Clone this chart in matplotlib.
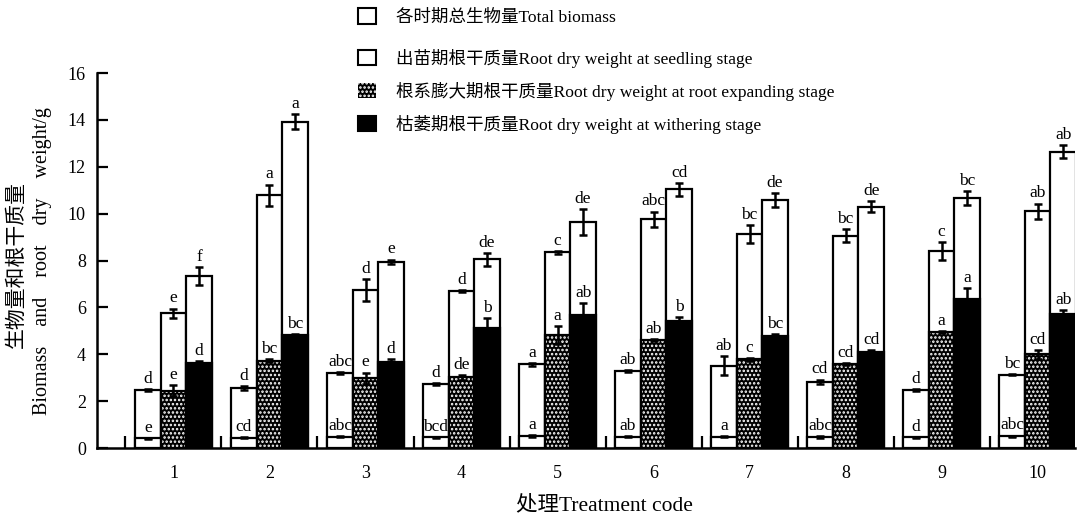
import matplotlib
matplotlib.use('Agg')
import matplotlib.pyplot as plt
from matplotlib.patches import Patch
import numpy as np

plt.rcParams['font.family'] = ['Liberation Serif', 'Noto Sans CJK SC']
plt.rcParams['hatch.linewidth'] = 1.2

groups = ['1', '2', '3', '4', '5', '6', '7', '8', '9', '10']

# seedling stage
total_seedling = [2.47, 2.55, 3.19, 2.72, 3.57, 3.28, 3.51, 2.82, 2.47, 3.13]
total_seedling_err = [0.05, 0.08, 0.05, 0.04, 0.05, 0.04, 0.41, 0.1, 0.05, 0.03]
root_seedling = [0.41, 0.44, 0.48, 0.45, 0.51, 0.48, 0.48, 0.47, 0.45, 0.51]
root_seedling_err = [0.03, 0.02, 0.03, 0.03, 0.03, 0.02, 0.02, 0.03, 0.02, 0.02]
# root expanding stage
total_expand = [5.75, 10.79, 6.74, 6.71, 8.35, 9.77, 9.12, 9.06, 8.40, 10.11]
total_expand_err = [0.2, 0.45, 0.48, 0.04, 0.07, 0.32, 0.38, 0.28, 0.37, 0.32]
root_expand = [2.45, 3.73, 2.97, 3.01, 4.82, 4.61, 3.78, 3.57, 4.96, 4.00]
root_expand_err = [0.23, 0.05, 0.25, 0.12, 0.37, 0.04, 0.05, 0.04, 0.04, 0.19]
# withering stage
total_wither = [7.35, 13.92, 7.94, 8.05, 9.63, 11.03, 10.58, 10.30, 10.65, 12.64]
total_wither_err = [0.38, 0.33, 0.1, 0.28, 0.55, 0.28, 0.3, 0.23, 0.3, 0.28]
root_wither = [3.61, 4.82, 3.68, 5.13, 5.67, 5.42, 4.78, 4.11, 6.36, 5.70]
root_wither_err = [0.1, 0.03, 0.1, 0.4, 0.5, 0.18, 0.1, 0.07, 0.46, 0.2]

# significance letters
total_seedling_lab = ['d', 'd', 'abc', 'd', 'a', 'ab', 'ab', 'cd', 'd', 'bc']
root_seedling_lab = ['e', 'cd', 'abc', 'bcd', 'a', 'ab', 'a', 'abc', 'd', 'abc']
total_expand_lab = ['e', 'a', 'd', 'd', 'c', 'abc', 'bc', 'bc', 'c', 'ab']
root_expand_lab = ['e', 'bc', 'e', 'de', 'a', 'ab', 'c', 'cd', 'a', 'cd']
total_wither_lab = ['f', 'a', 'e', 'de', 'de', 'cd', 'de', 'de', 'bc', 'ab']
root_wither_lab = ['d', 'bc', 'd', 'b', 'ab', 'b', 'bc', 'cd', 'a', 'ab']

fig = plt.figure(figsize=(10.82, 5.23), dpi=100)
ax = fig.add_axes([0.0896, 0.1434, 0.904, 0.717])

x = np.arange(1, len(groups) + 1)
w = 0.266
lw = 1.6


def add_labels(xs, tops, errs, labs):
    for xi, t, e, lab in zip(xs, tops, errs, labs):
        ax.annotate(lab, (xi, t + e), xytext=(0, 1.5), textcoords='offset points',
                    ha='center', va='bottom', fontsize=12.5)


stages = [
    (x - w, total_seedling, total_seedling_err, root_seedling, root_seedling_err, 'seed'),
    (x, total_expand, total_expand_err, root_expand, root_expand_err, 'expand'),
    (x + w, total_wither, total_wither_err, root_wither, root_wither_err, 'wither'),
]

for xs, tot, tot_err, root, root_err, kind in stages:
    ax.bar(xs, tot, w, color='white', edgecolor='black', linewidth=lw, zorder=2)
    if kind == 'seed':
        ax.bar(xs, root, w, color='white', edgecolor='black', linewidth=lw, zorder=3)
    elif kind == 'expand':
        ax.bar(xs, root, w, color='black', edgecolor='white', hatch='....', linewidth=0, zorder=3)
        ax.bar(xs, root, w, fill=False, edgecolor='black', linewidth=lw, zorder=3)
    else:
        ax.bar(xs, root, w, color='black', edgecolor='black', linewidth=lw, zorder=3)
    ax.errorbar(xs, tot, yerr=tot_err, fmt='none', ecolor='black', elinewidth=1.8,
                capsize=3, capthick=1.8, zorder=4)
    ax.errorbar(xs, root, yerr=root_err, fmt='none', ecolor='black', elinewidth=1.8,
                capsize=3, capthick=1.8, zorder=4)

add_labels(x - w, total_seedling, total_seedling_err, total_seedling_lab)
add_labels(x - w, root_seedling, root_seedling_err, root_seedling_lab)
add_labels(x, total_expand, total_expand_err, total_expand_lab)
add_labels(x, root_expand, root_expand_err, root_expand_lab)
add_labels(x + w, total_wither, total_wither_err, total_wither_lab)
add_labels(x + w, root_wither, root_wither_err, root_wither_lab)

ax.set_xlim(0.203, 10.39)
ax.set_ylim(0, 16)
ax.set_yticks(range(0, 17, 2))
ax.set_xticks(x)
ax.set_xticklabels(groups)
ax.set_xticks(np.arange(0.5, 10.0, 1.0), minor=True)
ax.tick_params(axis='x', which='major', length=0, pad=12, labelsize=13)
ax.tick_params(axis='x', which='minor', direction='in', length=9, width=1.6)
ax.tick_params(axis='y', direction='in', length=8, width=1.6, labelsize=13, pad=8)
for s in ['top', 'right']:
    ax.spines[s].set_visible(False)
for s in ['left', 'bottom']:
    ax.spines[s].set_linewidth(1.8)

fig.text(0.559, 0.034, '处理Treatment code', ha='center', va='center', fontsize=15.5)
fig.text(0.0157, 0.495, '生物量和根干质量', rotation=90, ha='center', va='center', fontsize=15)
fig.text(0.039, 0.5, 'Biomass    and    root    dry    weight/g', rotation=90,
         ha='center', va='center', fontsize=14.5)

h_total = [Patch(facecolor='white', edgecolor='black', linewidth=1.5)]
h_root = [
    Patch(facecolor='white', edgecolor='black', linewidth=1.5),
    Patch(facecolor='black', edgecolor='white', hatch='....', linewidth=0),
    Patch(facecolor='black', edgecolor='black', linewidth=1.5),
]
lab_total = ['各时期总生物量Total biomass']
lab_root = ['出苗期根干质量Root dry weight at seedling stage',
            '根系膨大期根干质量Root dry weight at root expanding stage',
            '枯萎期根干质量Root dry weight at withering stage']
leg_kw = dict(frameon=False, fontsize=12.6, handlelength=1.0, handleheight=1.0,
              handletextpad=1.15, borderpad=0, borderaxespad=0, loc='center left')
fig.legend(h_total, lab_total, bbox_to_anchor=(0.331, 0.9675), **leg_kw)
fig.legend(h_root, lab_root, bbox_to_anchor=(0.331, 0.826), labelspacing=0.8, **leg_kw)

fig.savefig('out.png', dpi=100)
